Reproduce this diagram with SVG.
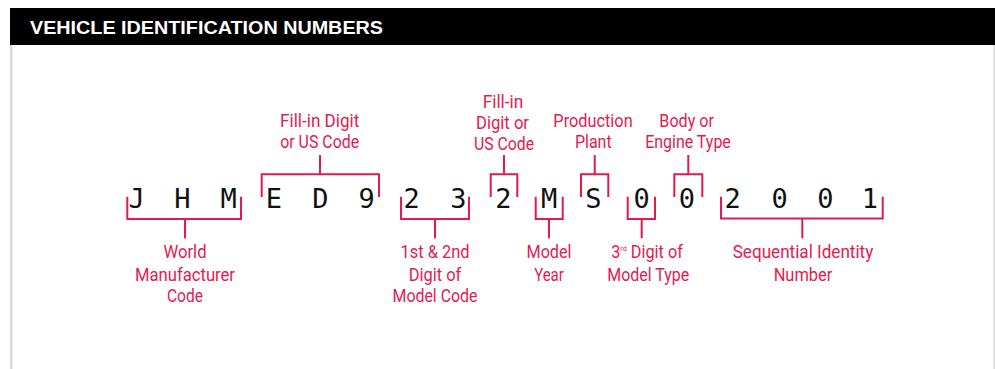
<svg xmlns="http://www.w3.org/2000/svg" width="995" height="369" viewBox="0 0 995 369">
<style>
.vin{font-family:"DejaVu Sans Mono",monospace;font-size:27px;fill:#111;text-anchor:middle}
.lbl{font-family:Roboto,"Liberation Sans",sans-serif;font-size:18px;fill:#e6194f;text-anchor:middle}
.br{fill:none;stroke:#e6194f;stroke-width:2}
.title{font-family:"Liberation Sans",Arial,sans-serif;font-weight:bold;font-size:19px;fill:#fff}
</style>
<rect x="0" y="0" width="995" height="369" fill="#fff"/>
<g id="frame">
<rect x="10" y="45" width="2.5" height="324" fill="#dcdcdc"/>
<rect x="993.3" y="45" width="1.7" height="324" fill="#dcdcdc"/>
<rect x="10" y="8" width="985" height="37" fill="#000"/>
<text class="title" x="30" y="34.3" textLength="353" lengthAdjust="spacingAndGlyphs">VEHICLE IDENTIFICATION NUMBERS</text>
</g>
<g id="vin-number">
<text class="vin" x="136.7" y="207.7">J</text>
<text class="vin" x="182.5" y="207.7">H</text>
<text class="vin" x="228.7" y="207.7">M</text>
<text class="vin" x="273.8" y="207.7">E</text>
<text class="vin" x="320.3" y="207.7">D</text>
<text class="vin" x="366.7" y="207.7">9</text>
<text class="vin" x="411.7" y="207.7">2</text>
<text class="vin" x="458.3" y="207.7">3</text>
<text class="vin" x="503.3" y="207.7">2</text>
<text class="vin" x="549.2" y="207.7">M</text>
<text class="vin" x="593.3" y="207.7">S</text>
<text class="vin" x="641.7" y="207.7">0</text>
<text class="vin" x="687" y="207.7">0</text>
<text class="vin" x="732.7" y="207.7">2</text>
<text class="vin" x="779.7" y="207.7">0</text>
<text class="vin" x="825.5" y="207.7">0</text>
<text class="vin" x="870" y="207.7">1</text>
</g>
<g id="connectors">
<path class="br" d="M127.3,196.7 V219 H241 V196.7 M185,219 V238.3"/>
<path class="br" d="M401,196.7 V219 H469 V196.7 M435,219 V238.3"/>
<path class="br" d="M535.7,196.7 V219 H562.7 V196.7 M549,219 V238.3"/>
<path class="br" d="M627.7,196.7 V219 H655 V196.7 M641.7,219 V238.3"/>
<path class="br" d="M721,196.7 V218.5 H882.7 V196.7 M802.3,218.5 V238.3"/>
<path class="br" d="M261.7,197 V174.3 H379 V197 M320,174.3 V155"/>
<path class="br" d="M490.7,197 V174.3 H517.3 V197 M504,174.3 V155"/>
<path class="br" d="M581,197 V174.3 H608.3 V197 M594.7,174.3 V155"/>
<path class="br" d="M674.3,197 V174.3 H702.3 V197 M688.3,174.3 V155"/>
</g>
<g id="world-manufacturer-code">
<text class="lbl" x="185" y="258.3" textLength="43" lengthAdjust="spacingAndGlyphs">World</text>
<text class="lbl" x="185" y="280.5" textLength="100" lengthAdjust="spacingAndGlyphs">Manufacturer</text>
<text class="lbl" x="185" y="301.7" textLength="36" lengthAdjust="spacingAndGlyphs">Code</text>
</g>
<g id="model-code">
<text class="lbl" x="435" y="258.3" textLength="69" lengthAdjust="spacingAndGlyphs">1st &amp; 2nd</text>
<text class="lbl" x="435" y="280.5" textLength="52.7" lengthAdjust="spacingAndGlyphs">Digit of</text>
<text class="lbl" x="435" y="301.7" textLength="85" lengthAdjust="spacingAndGlyphs">Model Code</text>
</g>
<g id="model-year">
<text class="lbl" x="549" y="258.3" textLength="45" lengthAdjust="spacingAndGlyphs">Model</text>
<text class="lbl" x="549" y="280.5" textLength="29.7" lengthAdjust="spacingAndGlyphs">Year</text>
</g>
<g id="model-type">
<text class="lbl" x="647" y="258.3" textLength="71.7" lengthAdjust="spacingAndGlyphs">3<tspan font-size="8" dy="-7">rd</tspan><tspan dy="7"> Digit of</tspan></text>
<text class="lbl" x="648.3" y="280.5" textLength="82" lengthAdjust="spacingAndGlyphs">Model Type</text>
</g>
<g id="sequential-number">
<text class="lbl" x="803" y="258.3" textLength="140.6" lengthAdjust="spacingAndGlyphs">Sequential Identity</text>
<text class="lbl" x="803" y="280.5" textLength="58.7" lengthAdjust="spacingAndGlyphs">Number</text>
</g>
<g id="fill-in-1">
<text class="lbl" x="319.7" y="126.7" textLength="79.3" lengthAdjust="spacingAndGlyphs">Fill-in Digit</text>
<text class="lbl" x="319.7" y="148.3" textLength="79" lengthAdjust="spacingAndGlyphs">or US Code</text>
</g>
<g id="fill-in-2">
<text class="lbl" x="503" y="108.3" textLength="40.7" lengthAdjust="spacingAndGlyphs">Fill-in</text>
<text class="lbl" x="502.5" y="129.3" textLength="53" lengthAdjust="spacingAndGlyphs">Digit or</text>
<text class="lbl" x="504" y="149.5" textLength="60" lengthAdjust="spacingAndGlyphs">US Code</text>
</g>
<g id="production-plant">
<text class="lbl" x="593" y="126.7" textLength="79.3" lengthAdjust="spacingAndGlyphs">Production</text>
<text class="lbl" x="593.3" y="148.3" textLength="36.7" lengthAdjust="spacingAndGlyphs">Plant</text>
</g>
<g id="body-engine">
<text class="lbl" x="686.7" y="126.7" textLength="54.7" lengthAdjust="spacingAndGlyphs">Body or</text>
<text class="lbl" x="688" y="148.3" textLength="85.7" lengthAdjust="spacingAndGlyphs">Engine Type</text>
</g>
</svg>
